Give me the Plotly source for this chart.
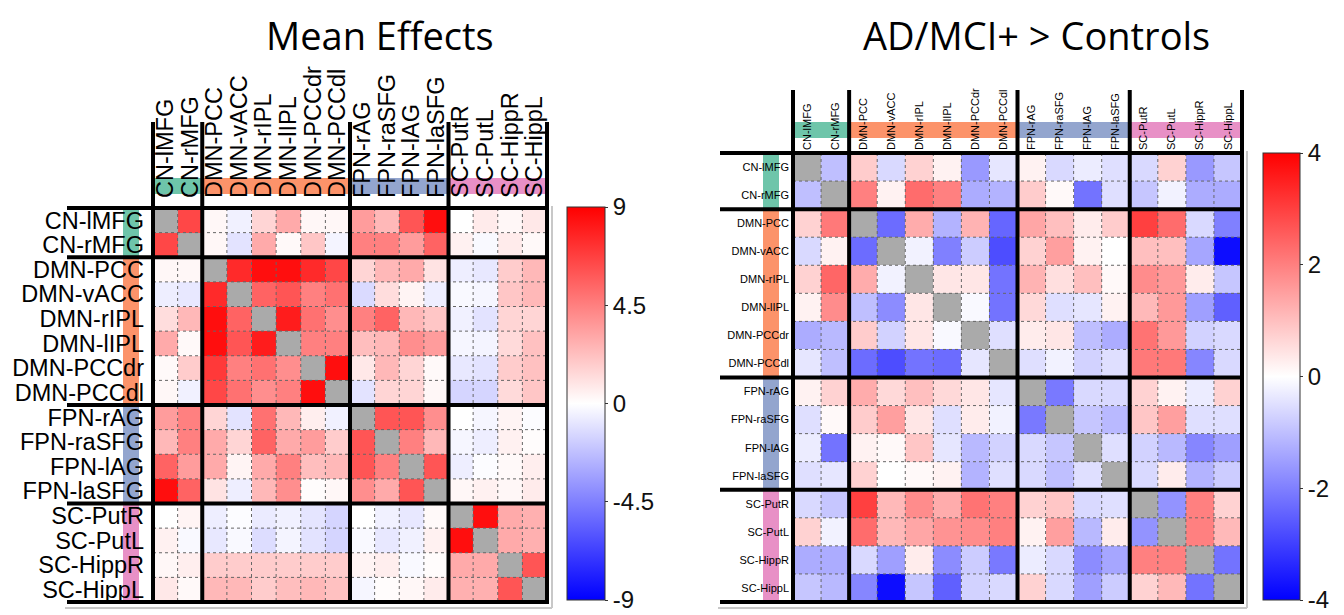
import plotly.graph_objects as go

labels = ["CN-lMFG", "CN-rMFG", "DMN-PCC", "DMN-vACC", "DMN-rIPL", "DMN-lIPL",
          "DMN-PCCdr", "DMN-PCCdl", "FPN-rAG", "FPN-raSFG", "FPN-lAG", "FPN-laSFG",
          "SC-PutR", "SC-PutL", "SC-HippR", "SC-HippL"]
group_sizes = [2, 6, 4, 4]
group_colors = ["rgba(102,194,165,0.95)", "rgba(252,141,98,0.95)",
                "rgba(141,160,203,0.95)", "rgba(231,138,195,0.95)"]

N = None
mean_effects = [
    [N, 6.5, 0.3, -0.5, 1.5, 3.0, 0.3, 0.3, 3.5, 2.5, 6.0, 8.5, 0.0, 0.7, 0.3, 0.8],
    [6.5, N, 0.3, -1.0, 3.0, 0.2, 2.0, -0.4, 4.5, 4.5, 3.5, 5.5, 0.5, -0.2, 0.7, 0.2],
    [0.3, 0.3, N, 7.5, 8.5, 8.5, 7.5, 6.5, 1.5, 2.5, 3.0, 1.0, -0.6, -0.8, 1.8, 2.5],
    [-0.6, -0.8, 7.5, N, 5.5, 6.0, 4.5, 5.0, -1.3, 1.2, 0.4, -0.6, -0.2, -0.3, 2.0, 2.5],
    [1.2, 2.5, 8.5, 5.5, N, 8.0, 5.0, 4.0, 4.5, 5.5, 2.5, 2.0, -0.5, -1.0, 1.5, 1.5],
    [3.0, 0.2, 8.5, 6.0, 8.0, N, 4.5, 4.5, 2.3, 2.5, 4.0, 3.5, -0.3, -0.4, 1.3, 2.2],
    [0.2, 1.8, 7.0, 4.5, 5.0, 4.0, N, 8.5, 0.8, 2.5, 1.5, 0.2, -0.8, -1.0, 1.8, 2.2],
    [0.3, -0.5, 6.5, 5.0, 4.0, 4.5, 8.5, N, -1.0, 1.5, 1.5, 0.3, -1.5, -1.5, 1.3, 2.0],
    [3.5, 4.5, 1.5, -1.0, 5.0, 2.5, 0.6, -0.5, N, 6.0, 6.0, 4.0, 0.0, -0.3, 0.4, -0.1],
    [2.5, 4.5, 3.0, 1.5, 5.5, 3.0, 3.5, 1.8, 6.0, N, 4.5, 2.5, -0.3, -0.6, 0.5, 0.1],
    [5.5, 3.5, 3.0, 0.4, 3.0, 4.5, 2.3, 2.5, 6.0, 4.5, N, 6.0, -0.6, -0.1, 0.2, 0.6],
    [8.5, 5.5, 1.0, -0.6, 2.5, 4.0, 0.1, 0.3, 4.0, 3.0, 6.0, N, 0.3, 0.5, 0.3, 0.7],
    [0.0, 0.4, -0.6, -0.1, -0.7, -0.5, -0.9, -1.5, 0.0, -0.5, -0.8, 0.2, N, 8.5, 3.0, 2.8],
    [0.5, -0.2, -0.8, -0.2, -1.2, -0.4, -1.0, -1.5, -0.2, -0.8, -0.5, 0.5, 8.5, N, 3.0, 2.8],
    [0.3, 0.6, 1.8, 1.8, 1.8, 1.8, 1.8, 1.8, 0.4, 0.6, -0.2, 0.1, 3.0, 3.0, N, 6.0],
    [0.8, 0.2, 2.5, 2.5, 1.8, 2.3, 2.5, 2.2, -0.3, 0.1, 0.3, 0.7, 2.8, 2.8, 6.0, N],
]

ad_vs_controls = [
    [N, -1.0, 0.8, -0.6, 0.7, 0.2, -1.6, -0.4, 0.2, -0.6, -0.3, -0.5, -0.6, 0.7, -1.6, -0.9],
    [-1.0, N, 2.0, 0.2, 2.3, 2.0, -1.3, -1.2, 0.8, 0.1, -2.2, -0.5, -0.9, -0.2, -1.3, -1.3],
    [0.7, 2.1, N, -2.3, 1.3, -1.2, 1.2, -2.4, 1.4, 1.0, 0.3, 0.8, 3.0, 2.3, -0.6, -2.0],
    [-0.6, 0.2, -2.3, N, -0.2, -2.0, -0.8, -2.8, 0.7, 1.5, 0.2, 0.0, 1.0, 1.0, -1.4, -3.8],
    [0.7, 2.4, 1.3, -0.2, N, 0.4, 0.4, -2.2, 1.2, 0.5, 1.0, 0.1, 1.8, 1.6, 0.3, -0.9],
    [0.2, 1.8, -1.0, -1.8, 0.4, N, -0.1, -2.2, 0.6, -0.5, -0.4, 0.2, 1.1, 1.6, -1.5, -2.5],
    [-1.3, -1.1, 0.8, -0.7, 0.4, -0.1, N, -0.5, 0.3, 0.4, -1.0, -1.3, 2.2, 1.6, -0.7, -0.6],
    [-0.4, -1.0, -2.3, -2.8, -2.2, -2.3, -0.4, N, -0.5, -0.2, -0.7, -0.5, 2.1, 2.1, -1.9, -0.6],
    [0.2, 0.7, 1.3, 0.6, 1.0, 0.6, 0.4, -0.4, N, -2.1, -0.6, -0.6, 0.7, 0.2, -0.3, 0.7],
    [-0.5, 0.1, 0.8, 1.5, 0.4, -0.5, 0.3, -0.2, -2.1, N, -0.9, -1.1, 0.9, 1.5, -0.5, -0.5],
    [-0.3, -2.2, 0.2, 0.1, 0.9, -0.4, -1.1, -0.7, -0.6, -0.9, N, -0.5, -0.7, -1.1, -1.9, -1.5],
    [-0.5, -0.4, 0.7, 0.0, 0.1, 0.2, -1.2, -0.5, -0.6, -1.0, -0.5, N, -0.6, 0.3, -1.2, -0.8],
    [-0.6, -0.9, 3.0, 1.1, 1.8, 1.3, 2.2, 2.0, 0.7, 0.9, -0.6, -0.5, N, -1.7, 2.0, 0.7],
    [0.7, -0.2, 2.3, 1.1, 1.4, 1.7, 1.8, 2.0, 0.2, 1.5, -1.1, 0.3, -1.7, N, 2.0, 1.1],
    [-1.3, -1.3, -0.6, -1.5, 0.3, -1.8, -0.8, -2.1, -0.3, -0.6, -1.8, -1.4, 2.0, 2.0, N, -2.2],
    [-0.9, -1.1, -1.9, -3.8, -0.9, -2.5, -0.7, -0.6, 0.7, -0.6, -1.5, -0.8, 0.7, 1.1, -2.2, N],
]

# page body has an 8px margin; the figure is placed at (8, 8)
OX, OY = 8, 8
W, H = 1344 - OX, 615 - OY
n = len(labels)
bounds = [0]
for s in group_sizes:
    bounds.append(bounds[-1] + s)

cscale = [[0, "rgb(0,0,255)"], [0.5, "rgb(255,255,255)"], [1, "rgb(255,0,0)"]]
diag_mask = [[1 if i == j else None for j in range(n)] for i in range(n)]

panels = [
    dict(z=mean_effects, x0=153, x1=547, y0=208, y1=602, lim=9,
         ticks=[9, 4.5, 0, -4.5, -9], cbx=567, cbw=38, cby0=207, cby1=600, lab_size=23.5,
         rowband=(123, 139), colband=(178, 194), hline_left=67, vline_top=122,
         title="Mean Effects", title_x=380, lw=4, ystandoff=8, xstandoff=9),
    dict(z=ad_vs_controls, x0=793, x1=1242, y0=153, y1=602, lim=4,
         ticks=[4, 2, 0, -2, -4], cbx=1263, cbw=37, cby0=153, cby1=600, lab_size=11,
         rowband=(763, 779), colband=(122, 138), hline_left=720, vline_top=90,
         title="AD/MCI+ > Controls", title_x=1036, lw=4, ystandoff=3, xstandoff=2),
]

fig = go.Figure()
shapes = []
annotations = []

def px(v):
    return (v - OX) / W

def py(v):
    return 1 - (v - OY) / H

for k, p in enumerate(panels, start=1):
    xa = "x" if k == 1 else "x%d" % k
    ya = "y" if k == 1 else "y%d" % k
    cell = (p["x1"] - p["x0"]) / n
    cellv = (p["y1"] - p["y0"]) / n
    fig.add_trace(go.Heatmap(
        z=p["z"], x=list(range(n)), y=list(range(n)), xaxis=xa, yaxis=ya,
        colorscale=cscale, zmin=-p["lim"], zmax=p["lim"], hoverongaps=False,
        colorbar=dict(
            x=px(p["cbx"]), xanchor="left", xref="paper", xpad=0, ypad=0,
            y=py((p["cby0"] + p["cby1"]) / 2), yanchor="middle",
            len=p["cby1"] - p["cby0"], lenmode="pixels",
            thickness=p["cbw"], outlinewidth=1, outlinecolor="#333",
            tickvals=p["ticks"], ticktext=[str(t) for t in p["ticks"]],
            ticks="outside", ticklen=3, tickcolor="#333",
            tickfont=dict(family="Liberation Sans, Arial", size=24, color="#111"),
        ),
    ))
    fig.add_trace(go.Heatmap(
        z=diag_mask, x=list(range(n)), y=list(range(n)), xaxis=xa, yaxis=ya,
        colorscale=[[0, "#aaaaaa"], [1, "#aaaaaa"]], showscale=False, hoverinfo="skip",
    ))
    axfont = dict(family="Liberation Sans, Arial", size=p["lab_size"], color="#000")
    xkey = "xaxis" if k == 1 else "xaxis%d" % k
    ykey = "yaxis" if k == 1 else "yaxis%d" % k
    fig.layout[xkey] = dict(
        domain=[px(p["x0"]), px(p["x1"])], anchor=ya, side="top",
        range=[-0.5, n - 0.5], tickvals=list(range(n)), ticktext=labels,
        tickangle=-90, tickfont=axfont, showgrid=False, zeroline=False,
        showline=False, ticks="", ticklabelstandoff=p["xstandoff"],
    )
    fig.layout[ykey] = dict(
        domain=[py(p["y1"]), py(p["y0"])], anchor=xa,
        range=[n - 0.5, -0.5], tickvals=list(range(n)), ticktext=labels,
        tickfont=axfont, showgrid=False, zeroline=False, showline=False,
        ticks="", ticklabelstandoff=p["ystandoff"],
    )

    # colour bands behind labels
    for g, s in enumerate(group_sizes):
        a, b = bounds[g], bounds[g + 1]
        shapes.append(dict(type="rect", xref="paper", yref="paper", layer="below",
                           x0=px(p["rowband"][0]), x1=px(p["rowband"][1]),
                           y0=py(p["y0"] + a * cellv), y1=py(p["y0"] + b * cellv),
                           fillcolor=group_colors[g], line=dict(width=0)))
        shapes.append(dict(type="rect", xref="paper", yref="paper", layer="below",
                           x0=px(p["x0"] + a * cell), x1=px(p["x0"] + b * cell),
                           y0=py(p["colband"][0]), y1=py(p["colband"][1]),
                           fillcolor=group_colors[g], line=dict(width=0)))

    # dotted cell grid
    for i in range(1, n):
        if i in bounds:
            continue
        shapes.append(dict(type="line", xref="paper", yref="paper", layer="above",
                           x0=px(p["x0"]), x1=px(p["x1"]),
                           y0=py(p["y0"] + i * cellv), y1=py(p["y0"] + i * cellv),
                           line=dict(color="#666", width=1, dash="dot")))
        shapes.append(dict(type="line", xref="paper", yref="paper", layer="above",
                           x0=px(p["x0"] + i * cell), x1=px(p["x0"] + i * cell),
                           y0=py(p["y0"]), y1=py(p["y1"]),
                           line=dict(color="#666", width=1, dash="dot")))

    # shadow
    shapes.append(dict(type="line", xref="paper", yref="paper", layer="below",
                       x0=px(p["x1"] + 5), x1=px(p["x1"] + 5),
                       y0=py(p["y0"] - 2), y1=py(p["y1"] + 6),
                       line=dict(color="#c8c8c8", width=2)))
    shapes.append(dict(type="line", xref="paper", yref="paper", layer="below",
                       x0=px(p["hline_left"] - 2), x1=px(p["x1"] + 5),
                       y0=py(p["y1"] + 6), y1=py(p["y1"] + 6),
                       line=dict(color="#c8c8c8", width=2)))

    # thick group lines
    for b in bounds:
        yy = p["y0"] + b * cellv
        xx = p["x0"] + b * cell
        shapes.append(dict(type="line", xref="paper", yref="paper", layer="above",
                           x0=px(p["hline_left"]), x1=px(p["x1"] + 2),
                           y0=py(yy), y1=py(yy), line=dict(color="#000", width=p["lw"])))
        shapes.append(dict(type="line", xref="paper", yref="paper", layer="above",
                           x0=px(xx), x1=px(xx),
                           y0=py(p["vline_top"]), y1=py(p["y1"] + 2),
                           line=dict(color="#000", width=p["lw"])))

    annotations.append(dict(text=p["title"], xref="paper", yref="paper",
                            x=px(p["title_x"]), y=1, xanchor="center", yanchor="top",
                            showarrow=False, borderpad=0,
                            font=dict(family="Open Sans, Lato", size=38, color="#000")))

fig.update_layout(
    width=W, height=H, margin=dict(l=0, r=0, t=0, b=0),
    paper_bgcolor="white", plot_bgcolor="white",
    shapes=shapes, annotations=annotations, showlegend=False,
)
fig.write_html("out.html")
